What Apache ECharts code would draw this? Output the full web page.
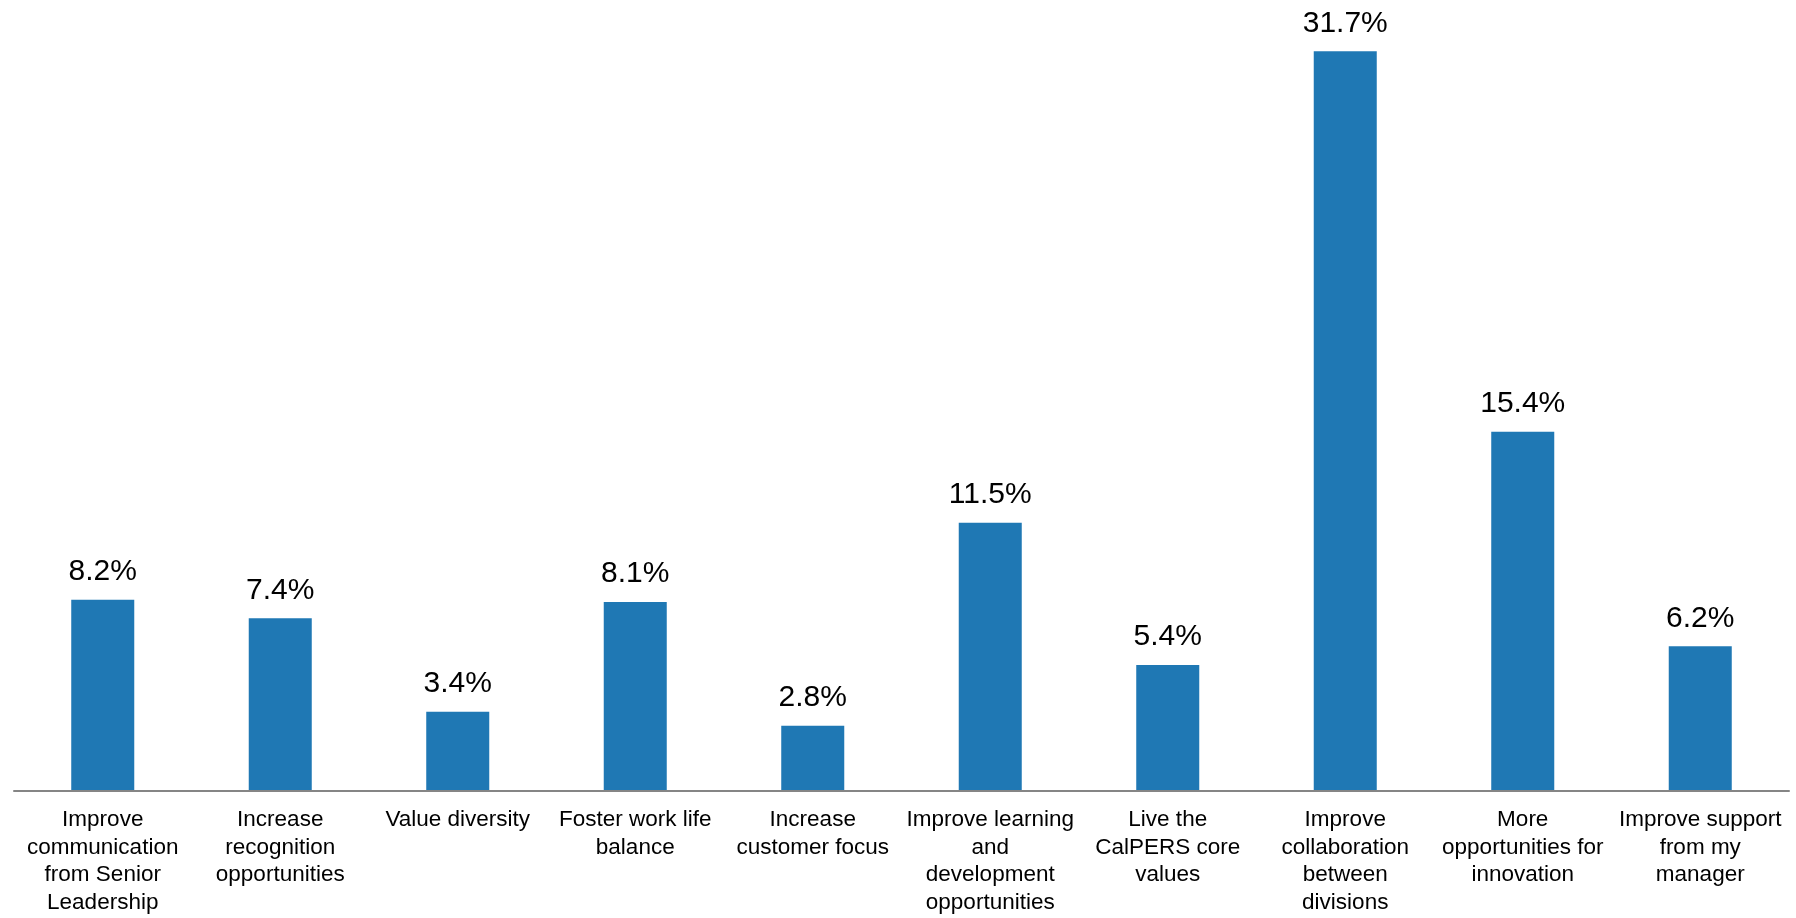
<!DOCTYPE html>
<html>
<head>
<meta charset="utf-8">
<title>Survey priorities</title>
<script src="https://cdn.jsdelivr.net/npm/echarts@6/dist/echarts.min.js"></script>
<style>
  html, body { margin: 0; padding: 0; background: #ffffff; }
  #chart { width: 1796px; height: 918px; }
</style>
</head>
<body>
<div id="chart"></div>
<script>
// Response categories (line breaks as they wrap under the axis)
const categories = [
  'Improve\ncommunication\nfrom Senior\nLeadership',
  'Increase\nrecognition\nopportunities',
  'Value diversity',
  'Foster work life\nbalance',
  'Increase\ncustomer focus',
  'Improve learning\nand\ndevelopment\nopportunities',
  'Live the\nCalPERS core\nvalues',
  'Improve\ncollaboration\nbetween\ndivisions',
  'More\nopportunities for\ninnovation',
  'Improve support\nfrom my\nmanager'
];

// Share of responses, in percent
const shares = [8.2, 7.4, 3.4, 8.1, 2.8, 11.5, 5.4, 31.7, 15.4, 6.2];

const FONT = '"Liberation Sans", Arial, Helvetica, sans-serif';

const chart = echarts.init(document.getElementById('chart'), null, { renderer: 'canvas' });

chart.setOption({
  animation: false,
  backgroundColor: '#ffffff',
  grid: { left: 14, right: 7, top: 0, bottom: 127, containLabel: false },
  xAxis: {
    type: 'category',
    data: categories,
    z: 5,
    axisLine: { show: true, lineStyle: { color: '#858585', width: 2 } },
    axisTick: { show: false },
    axisLabel: {
      interval: 0,
      margin: 15,
      color: '#000000',
      fontFamily: FONT,
      fontSize: 22.5,
      lineHeight: 27.7,
      align: 'center'
    },
    splitLine: { show: false }
  },
  yAxis: {
    type: 'value',
    min: 0,
    max: 33.9,
    show: false,
    splitLine: { show: false }
  },
  series: [{
    type: 'bar',
    data: shares,
    barWidth: '35.5%',
    itemStyle: { color: '#1f78b4' },
    label: {
      show: true,
      position: 'top',
      distance: 13,
      color: '#000000',
      fontFamily: FONT,
      fontSize: 30,
      formatter: p => p.value.toFixed(1) + '%'
    }
  }]
});
</script>
</body>
</html>
